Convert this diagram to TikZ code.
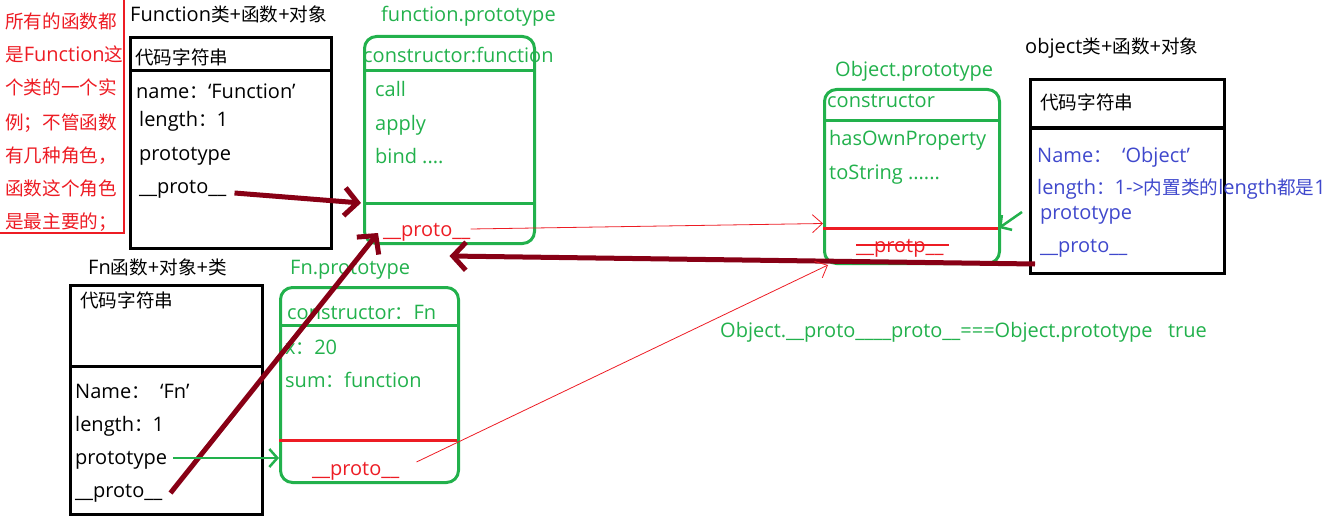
\documentclass[tikz,border=0pt]{standalone}
\usepackage{fontspec}
\setmainfont{Open Sans}
\newfontfamily\cjk{Noto Sans CJK SC}[Scale=0.93]
\usetikzlibrary{arrows.meta}
\definecolor{pred}{HTML}{ED1C24}
\definecolor{pgreen}{HTML}{22B14C}
\definecolor{pdark}{HTML}{880015}
\definecolor{pblue}{HTML}{3F48CC}

\begin{document}
\begin{tikzpicture}[x=1pt,y=-1pt,every node/.style={inner sep=0pt,anchor=base west,font=\fontsize{20}{22}\selectfont},box/.style={draw=black,line width=3pt,anchor=north west},pbox/.style={draw=pgreen,line width=3pt,rounded corners=12pt,anchor=north west},bigarrow/.style={draw=pdark,line width=5pt,-{Straight Barb[length=13pt,width=28pt]}},thinarrow/.style={draw=pred,line width=0.8pt,-{Straight Barb[length=10pt,width=18pt]}},garrow/.style={draw=pgreen,line width=2.5pt,-{Straight Barb[length=8pt,width=18pt]}}]
\useasboundingbox (0,0) rectangle (1340,524);
% red note
\draw[pred,line width=2.5pt] (124,0) -- (124,233) -- (0,233);
\node[text=pred] (note1) at (5,29) {\cjk 所有的函数都};
\node[text=pred] (note2) at (5,62) {{\cjk 是}Function{\cjk 这}};
\node[text=pred] (note3) at (5,95) {\cjk 个类的一个实};
\node[text=pred] (note4) at (5,129) {\cjk 例；不管函数};
\node[text=pred] (note5) at (5,162) {\cjk 有几种角色，};
\node[text=pred] (note6) at (5,195) {\cjk 函数这个角色};
\node[text=pred] (note7) at (5,228) {\cjk 是最主要的；};
% Function
\node (functitle) at (130,22) {Function{\cjk 类}+{\cjk 函数}+{\cjk 对象}};
\node[box,minimum width=201pt,minimum height=211pt] (funcbox) at (129,36) {};
\draw[line width=3pt] (129,71) -- (330,71);
\node (funccode) at (135,65) {\cjk 代码字符串};
\node (funcname) at (136,99) {name{\cjk ：}‘Function’};
\node (funclen) at (139,127) {length{\cjk ：}1};
\node (funcprot) at (139,160) {prototype};
\node (funcproto) at (139,193) {\_\_proto\_\_};
% function.prototype
\node[text=pgreen] (fptitle) at (381,22) {function.prototype};
\node[pbox,minimum width=170pt,minimum height=207pt] (fpbox) at (363,35) {};
\draw[pgreen,line width=3pt] (363,71) -- (533,71);
\draw[pgreen,line width=3pt] (363,203) -- (535,203);
\coordinate (fpdiv) at (361,203);
\node[text=pgreen] (fpcons) at (363,63) {constructor:function};
\node[text=pgreen] (fpcall) at (375,97) {call};
\node[text=pgreen] (fpapply) at (375,131) {apply};
\node[text=pgreen] (fpbind) at (375,163) {bind ....};
\node[text=pred] (fpproto) at (383,236) {\_\_proto\_\_};
% Object.prototype
\node[text=pgreen] (optitle) at (835,77) {Object.prototype};
\node[pbox,minimum width=175pt,minimum height=174pt] (opbox) at (823,88) {};
\draw[pgreen,line width=3pt] (823,121) -- (998,121);
\draw[pred,line width=3pt] (823,228) -- (998,228);
\coordinate (opdiv) at (999,228);
\node[text=pgreen] (opcons) at (827,108) {constructor};
\node[text=pgreen] (ophas) at (829,146) {hasOwnProperty};
\node[text=pgreen] (opstr) at (829,179) {toString ......};
\node[text=pred] (opproto) at (856,252) {\_\_protp\_\_};
\draw[pred,line width=2.5pt] ([yshift=7pt]opproto.base west) -- ([xshift=5pt,yshift=7pt]opproto.base east);
% Object
\node (objtitle) at (1025,54) {object{\cjk 类}+{\cjk 函数}+{\cjk 对象}};
\node[box,minimum width=194pt,minimum height=194pt] (objbox) at (1029,78) {};
\draw[line width=3pt] (1029,128) -- (1225,128);
\node (objcode) at (1040,110) {\cjk 代码字符串};
\node[text=pblue] (objname) at (1037,162) {Name{\cjk ：}\ \ ‘Object’};
\node[text=pblue] (objlen) at (1037,194) {length{\cjk ：}1->{\cjk 内置类的}length{\cjk 都是}1};
\node[text=pblue] (objprot) at (1040,219) {prototype};
\node[text=pblue] (objproto) at (1040,252) {\_\_proto\_\_};
\coordinate (objstart) at (1035,264);
% Fn
\node (fntitle) at (88,274) {Fn{\cjk 函数}+{\cjk 对象}+{\cjk 类}};
\node[box,minimum width=192pt,minimum height=229pt] (fnbox) at (69,284) {};
\draw[line width=3pt] (69,366) -- (263,366);
\node (fncode) at (80,307) {\cjk 代码字符串};
\node (fnname) at (75,398) {Name{\cjk ：}\ \ ‘Fn’};
\node (fnlen) at (75,431) {length{\cjk ：}1};
\node (fnprot) at (75,464) {prototype};
\node (fnproto) at (75,497) {\_\_proto\_\_};
% Fn.prototype
\node[text=pgreen] (fnptitle) at (290,274) {Fn.prototype};
\node[pbox,minimum width=178pt,minimum height=195pt] (fnpbox) at (279,286) {};
\draw[pgreen,line width=3pt] (279,325) -- (457,325);
\draw[pred,line width=3pt] (279,440) -- (457,440);
\node[text=pgreen] (fnpcons) at (287,319) {constructor{\cjk ：}Fn};
\node[text=pgreen] (fnpx) at (285,354) {x{\cjk ：}20};
\node[text=pgreen] (fnpsum) at (285,387) {sum{\cjk ：}function};
\node[text=pred] (fnpproto) at (312,475) {\_\_proto\_\_};
% note
\node[text=pgreen] (eqnote) at (720,337) {Object.\_\_proto\_\_\_\_proto\_\_===Object.prototype\ \ \ true};
% links
\draw[bigarrow] ([xshift=8pt]funcproto.base east) -- (fpdiv);
\draw[bigarrow] (objstart) -- ([yshift=-11pt]fpbox.south);
\draw[bigarrow] ([xshift=8pt,yshift=4pt]fnproto.base east) -- ([xshift=15pt,yshift=12pt]fpbox.south west);
\draw[garrow] ([xshift=6pt,yshift=6pt]fnprot.base east) -- ([yshift=6pt]fnpbox.west |- fnprot.base east);
\draw[garrow] ([xshift=-18pt,yshift=7pt]objprot.base west) -- (opdiv);
\draw[thinarrow] ([yshift=7pt]fpproto.base east) -- ([yshift=-47pt]opbox.west);
\draw[thinarrow] ([xshift=17pt,yshift=13pt]fnpproto.base east) -- ([xshift=5pt]opbox.south west);
\end{tikzpicture}
\end{document}
